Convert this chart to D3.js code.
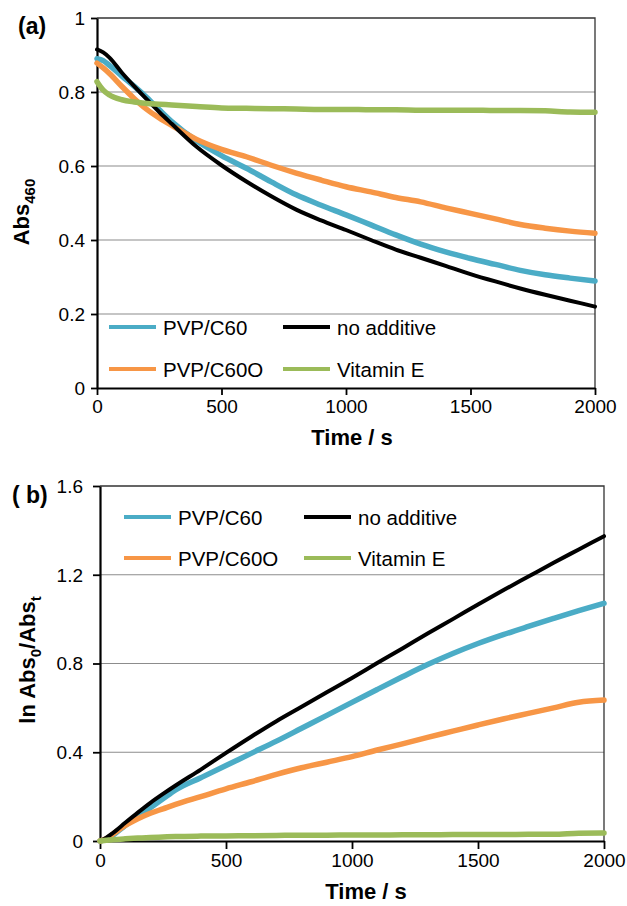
<!DOCTYPE html>
<html>
<head>
<meta charset="utf-8">
<script src="https://cdn.jsdelivr.net/npm/d3@7/dist/d3.min.js"></script>
<style>
  body { margin: 0; background: #fff; }
  svg text { font-family: "Liberation Sans", Arial, sans-serif; }
</style>
</head>
<body>
<div id="chart"></div>
<script>
// time axis shared by both panels (s)
const time = [0, 25, 50, 100, 150, 200, 250, 300, 400, 500, 600, 700, 800, 900, 1000,
  1100, 1200, 1300, 1400, 1500, 1600, 1700, 1800, 1900, 2000];

// panel (a): Abs460
const absPvpC60 = [0.89, 0.885, 0.872, 0.843, 0.815, 0.785, 0.752, 0.72, 0.668, 0.628, 0.594, 0.557, 0.522,
  0.494, 0.468, 0.441, 0.414, 0.389, 0.368, 0.35, 0.334, 0.318, 0.306, 0.297, 0.289];
const absNoAdditive = [0.915, 0.907, 0.893, 0.852, 0.815, 0.78, 0.746, 0.714, 0.652, 0.602, 0.558, 0.518, 0.482,
  0.453, 0.427, 0.4, 0.374, 0.352, 0.33, 0.308, 0.288, 0.269, 0.252, 0.236, 0.22];
const absPvpC60O = [0.878, 0.865, 0.85, 0.815, 0.782, 0.753, 0.73, 0.71, 0.672, 0.645, 0.625, 0.602, 0.581,
  0.562, 0.544, 0.53, 0.515, 0.503, 0.487, 0.472, 0.457, 0.442, 0.432, 0.424, 0.418];
const absVitaminE = [0.828, 0.805, 0.792, 0.779, 0.773, 0.769, 0.767, 0.765, 0.761, 0.757, 0.756, 0.755, 0.754,
  0.753, 0.753, 0.752, 0.752, 0.751, 0.751, 0.751, 0.75, 0.75, 0.749, 0.746, 0.745];

// panel (b): ln Abs0/Abst
const lnPvpC60 = [0, 0.008, 0.025, 0.07, 0.11, 0.15, 0.19, 0.23, 0.285, 0.34, 0.395, 0.45, 0.508,
  0.566, 0.625, 0.683, 0.74, 0.795, 0.845, 0.89, 0.93, 0.967, 1.003, 1.038, 1.071];
const lnNoAdditive = [0, 0.015, 0.035, 0.082, 0.128, 0.172, 0.212, 0.25, 0.322, 0.397, 0.47, 0.54, 0.605,
  0.67, 0.735, 0.802, 0.868, 0.935, 1.0, 1.066, 1.13, 1.192, 1.254, 1.314, 1.374];
const lnPvpC60O = [0, 0.01, 0.03, 0.07, 0.1, 0.125, 0.145, 0.165, 0.2, 0.235, 0.267, 0.3, 0.33,
  0.355, 0.38, 0.41, 0.438, 0.467, 0.495, 0.523, 0.55, 0.575, 0.6, 0.625, 0.635];
const lnVitaminE = [0, 0.003, 0.006, 0.01, 0.013, 0.016, 0.018, 0.02, 0.022, 0.023, 0.024, 0.025, 0.026,
  0.026, 0.027, 0.027, 0.028, 0.028, 0.029, 0.029, 0.029, 0.03, 0.03, 0.035, 0.036];

const xTicks = [0, 500, 1000, 1500, 2000];
const yTicksA = [0, 0.2, 0.4, 0.6, 0.8, 1];
const yTicksB = [0, 0.4, 0.8, 1.2, 1.6];

const names = ["PVP/C60", "no additive", "PVP/C60O", "Vitamin E"];
const colors = ["#4bacc6", "#000000", "#f79646", "#9bbb59"];
const widths = [5.5, 4, 5.5, 5.5];
const drawOrder = [0, 2, 1, 3];

const svg = d3.select("#chart")
  .append("svg")
  .attr("width", 627)
  .attr("height", 906);

function panel(opt) {
  const x = d3.scaleLinear().domain([0, 2000]).range([opt.left, opt.right]);
  const y = d3.scaleLinear().domain([0, opt.ymax]).range([opt.bottom, opt.top]);
  const g = svg.append("g");

  // gridlines
  g.append("g")
    .selectAll("line")
    .data(opt.yTicks.filter(d => d > 0 && d < opt.ymax))
    .enter().append("line")
    .attr("x1", opt.left).attr("x2", opt.right)
    .attr("y1", d => y(d)).attr("y2", d => y(d))
    .attr("stroke", "#8c8c8c").attr("stroke-width", 1.2);

  // top and right frame
  g.append("path")
    .attr("d", `M${opt.left},${opt.top}H${opt.right}V${opt.bottom}`)
    .attr("fill", "none").attr("stroke", "#333").attr("stroke-width", 1.3);

  // axes
  const yAxis = g.append("g")
    .attr("transform", `translate(${opt.left},0)`)
    .call(d3.axisLeft(y).tickValues(opt.yTicks).tickFormat(d3.format("~g"))
      .tickSize(opt.tick).tickPadding(opt.pad).tickSizeOuter(0));
  const xAxis = g.append("g")
    .attr("transform", `translate(0,${opt.bottom})`)
    .call(d3.axisBottom(x).tickValues(xTicks).tickFormat(d3.format("d"))
      .tickSize(opt.tick + 1).tickPadding(4).tickSizeOuter(0));
  [yAxis, xAxis].forEach(a => {
    a.select(".domain").attr("stroke", "#000").attr("stroke-width", 2.2);
    a.selectAll(".tick line").attr("stroke", "#000").attr("stroke-width", 1.8);
    a.selectAll(".tick text").attr("fill", "#000").style("font-size", "19px")
      .style("font-family", "'Liberation Sans', Arial, sans-serif");
  });
  yAxis.selectAll(".tick text").attr("dy", "0.34em");
  xAxis.selectAll(".tick text").attr("dy", "0.74em");

  // series
  const line = d3.line()
    .x((d, i) => x(time[i]))
    .y(d => y(d))
    .curve(d3.curveMonotoneX);
  drawOrder.forEach(k => {
    g.append("path")
      .datum(opt.series[k])
      .attr("d", line)
      .attr("fill", "none")
      .attr("stroke", colors[k])
      .attr("stroke-width", widths[k])
      .attr("stroke-linejoin", "round")
      .attr("stroke-linecap", "round");
  });

  // legend (2 x 2)
  names.forEach((name, k) => {
    const col = k % 2, row = Math.floor(k / 2);
    const lx = opt.legendX[col], ly = opt.legendY[row];
    g.append("line")
      .attr("x1", lx).attr("x2", lx + 47)
      .attr("y1", ly).attr("y2", ly)
      .attr("stroke", colors[k]).attr("stroke-width", 4);
    g.append("text")
      .attr("x", lx + 54).attr("y", ly + 7.5)
      .style("font-size", "20.5px")
      .text(name);
  });

  // x title
  g.append("text")
    .attr("x", opt.xTitleX).attr("y", opt.xTitleY)
    .attr("text-anchor", "middle")
    .style("font-size", "22px").style("font-weight", "bold")
    .text("Time / s");

  return g;
}

// panel (a)
const ga = panel({
  left: 97, right: 595, top: 18, bottom: 388, ymax: 1, yTicks: yTicksA,
  tick: 6, pad: 6,
  series: [absPvpC60, absNoAdditive, absPvpC60O, absVitaminE],
  legendX: [109, 283], legendY: [327, 369],
  xTitleX: 352, xTitleY: 445
});
ga.append("text").attr("x", 18).attr("y", 34)
  .style("font-size", "23px").style("font-weight", "bold").text("(a)");
const ta = ga.append("text")
  .attr("transform", "translate(29,212) rotate(-90)")
  .attr("text-anchor", "middle")
  .style("font-size", "22px").style("font-weight", "bold");
ta.append("tspan").text("Abs");
ta.append("tspan").attr("dy", 6).style("font-size", "15px").text("460");

// panel (b)
const gb = panel({
  left: 100, right: 604, top: 486, bottom: 841, ymax: 1.6, yTicks: yTicksB,
  tick: 7, pad: 10,
  series: [lnPvpC60, lnNoAdditive, lnPvpC60O, lnVitaminE],
  legendX: [124, 304], legendY: [517, 558],
  xTitleX: 366, xTitleY: 899
});
gb.append("text").attr("x", 12).attr("y", 503)
  .style("font-size", "23px").style("font-weight", "bold").text("( b)");
const tb = gb.append("text")
  .attr("transform", "translate(35,660) rotate(-90)")
  .attr("text-anchor", "middle")
  .style("font-size", "22px").style("font-weight", "bold");
tb.append("tspan").text("ln Abs");
tb.append("tspan").attr("dy", 6).style("font-size", "15px").text("0");
tb.append("tspan").attr("dy", -6).text("/Abs");
tb.append("tspan").attr("dy", 6).style("font-size", "15px").text("t");
</script>
</body>
</html>
